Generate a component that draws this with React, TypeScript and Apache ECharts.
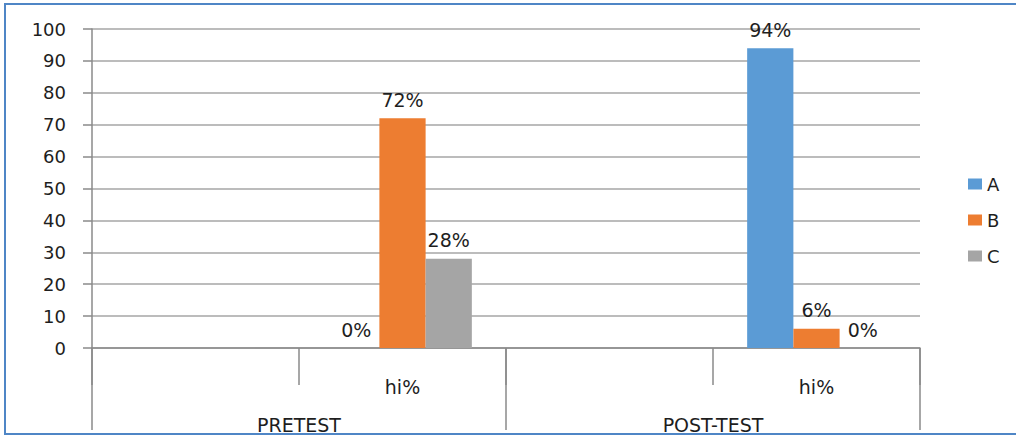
import React, { useEffect, useRef } from "react";
import * as echarts from "echarts";

const groups = ["PRETEST", "POST-TEST"];
const subLabel = "hi%";
const seriesNames = ["A", "B", "C"];
const valuesA = [0, 94];
const valuesB = [72, 6];
const valuesC = [28, 0];
const colors = ["#5B9BD5", "#ED7D31", "#A5A5A5"];

// each group occupies two slots: an empty one and the "hi%" one
const slots: string[] = [];
groups.forEach(() => { slots.push(""); slots.push(subLabel); });
const expand = (vals: number[]) => {
  const out: (number | string)[] = [];
  vals.forEach((v) => { out.push("-"); out.push(v); });
  return out;
};

const FONT = "DejaVu Sans";
const TXT = "#1e1e1e";

export default function App() {
  const ref = useRef<HTMLDivElement>(null);
  useEffect(() => {
    if (!ref.current) return;
    const chart = echarts.init(ref.current, null, { renderer: "svg" });
    const all = [valuesA, valuesB, valuesC];
    chart.setOption({
      animation: false,
      backgroundColor: "#ffffff",
      textStyle: { fontFamily: FONT },
      grid: { left: 92, right: 96, top: 29, bottom: 88, containLabel: false },
      legend: {
        orient: "vertical",
        left: 963,
        top: 170,
        itemWidth: 14,
        itemHeight: 11,
        itemGap: 18,
        icon: "rect",
        data: seriesNames,
        textStyle: { fontSize: 18, color: TXT, fontFamily: FONT },
      },
      xAxis: [
        {
          type: "category",
          data: slots,
          position: "bottom",
          axisLine: { show: true, lineStyle: { color: "#8a8a8a", width: 1.5 } },
          axisTick: { show: true, interval: 0, length: 37, lineStyle: { color: "#8a8a8a", width: 1.5 } },
          axisLabel: { interval: 0, margin: 29, fontSize: 19, color: TXT, fontFamily: FONT },
          splitLine: { show: false },
        },
        {
          type: "category",
          data: groups,
          position: "bottom",
          axisLine: { show: false },
          axisTick: { show: true, interval: 0, length: 82, lineStyle: { color: "#8a8a8a", width: 1.5 } },
          axisLabel: { interval: 0, margin: 67, fontSize: 19, color: TXT, fontFamily: FONT },
          splitLine: { show: false },
        },
      ],
      yAxis: {
        type: "value",
        min: 0,
        max: 100,
        interval: 10,
        axisLine: { show: true, lineStyle: { color: "#8a8a8a", width: 1.5 } },
        axisTick: { show: true, length: 9, lineStyle: { color: "#8a8a8a", width: 1.5 } },
        axisLabel: { margin: 26, fontSize: 18, color: TXT, fontFamily: FONT },
        splitLine: { show: true, lineStyle: { color: "#a6a6a6", width: 1.5 } },
      },
      series: seriesNames.map((name, i) => ({
        name,
        type: "bar",
        xAxisIndex: 0,
        data: expand(all[i]),
        barGap: "0%",
        barCategoryGap: "33%",
        itemStyle: { color: colors[i] },
        label: {
          show: true,
          position: "top",
          distance: 9,
          formatter: (p: any) => `${p.value}%`,
          fontSize: 19,
          color: TXT,
          fontFamily: FONT,
        },
      })),
      graphic: [
        {
          type: "rect",
          shape: { x: 5, y: 4, width: 1030, height: 430 },
          style: { fill: "none", stroke: "#4f86c6", lineWidth: 2 },
          silent: true,
        },
      ],
    });
    return () => chart.dispose();
  }, []);
  return (
    <div
      ref={ref}
      style={{ position: "fixed", left: 0, top: 0, width: 1016, height: 436 }}
    />
  );
}
